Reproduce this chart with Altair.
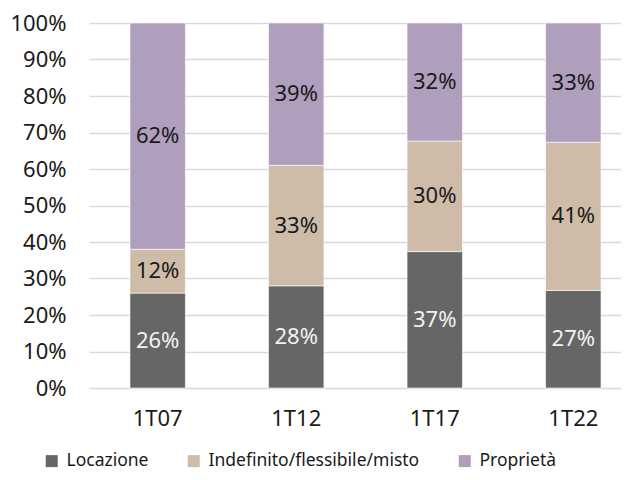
import altair as alt
import pandas as pd

quarters = ["1T07", "1T12", "1T17", "1T22"]
series = ["Locazione", "Indefinito/flessibile/misto", "Proprietà"]
locazione = [26, 28, 37, 27]
indefinito = [12, 33, 30, 41]
proprieta = [62, 39, 32, 33]
colors = ["#666666", "#CEBCA9", "#B09EBD"]
text_colors = ["#F2F2F2", "#1A1A1A", "#1A1A1A"]

rows = []
for i, s in enumerate(series):
    vals = [locazione, indefinito, proprieta][i]
    for q, v in zip(quarters, vals):
        rows.append({"quarter": q, "series": s, "idx": i, "value": v,
                     "label": f"{v}%", "tcol": text_colors[i]})
df = pd.DataFrame(rows)

FONT = "Noto Sans"

x = alt.X("quarter:N", sort=quarters,
          scale=alt.Scale(paddingInner=0.6, paddingOuter=0.22, align=0.672),
          axis=alt.Axis(title=None, labelAngle=0, domain=False, ticks=False,
                        labelPadding=20, labelFontSize=22, labelFont=FONT,
                        labelColor="#1A1A1A", grid=False))

yscale = alt.Scale(domain=[0, 1], nice=False)
yaxis = alt.Axis(title=None, format=".0%", values=[i / 10 for i in range(11)],
                 domain=False, ticks=False, labelPadding=23,
                 labelFontSize=22, labelFont=FONT, labelColor="#1A1A1A",
                 gridColor="#D9D9D9", gridWidth=1.3, grid=True)

bars = alt.Chart(df).mark_bar(stroke="white", strokeWidth=0.6).encode(
    x=x,
    y=alt.Y("value:Q", stack="normalize", scale=yscale, axis=yaxis),
    color=alt.Color("series:N", sort=series,
                    scale=alt.Scale(domain=series, range=colors),
                    legend=alt.Legend(orient="none", legendX=-46, legendY=429,
                                      direction="horizontal", columns=3, title=None,
                                      symbolType="square", symbolSize=144,
                                      symbolStrokeWidth=0, labelFontSize=17.5,
                                      labelFont=FONT, labelColor="#1A1A1A",
                                      labelLimit=0, columnPadding=36, labelOffset=6)),
    order=alt.Order("idx:Q", sort="ascending"),
)

texts = alt.Chart(df).transform_joinaggregate(
    total="sum(value)", groupby=["quarter"]
).transform_window(
    cum="sum(value)", sort=[alt.SortField("idx")], groupby=["quarter"],
    frame=[None, 0]
).transform_calculate(
    mid="(datum.cum - datum.value / 2) / datum.total"
).mark_text(fontSize=22, font=FONT, baseline="middle", align="center").encode(
    x=x,
    y=alt.Y("mid:Q", scale=yscale, axis=yaxis),
    text="label:N",
    color=alt.Color("tcol:N", scale=None),
)

chart = alt.layer(bars, texts).properties(
    width=532, height=365,
    autosize=alt.AutoSizeParams(type="none"),
    padding={"left": 81, "top": 15, "right": 0, "bottom": 82},
).configure_view(stroke=None)

chart.save("out.html", embed_options={"renderer": "svg", "actions": False})
